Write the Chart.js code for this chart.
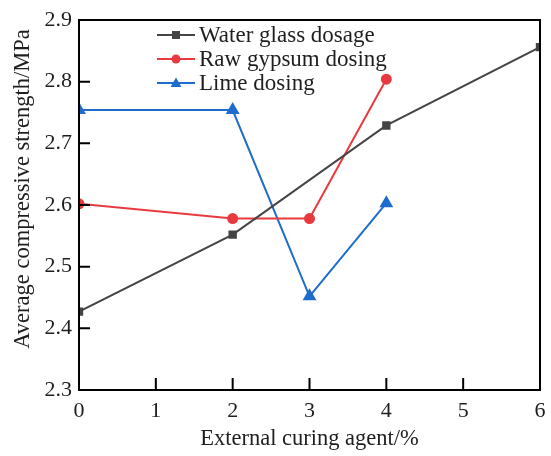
<!DOCTYPE html>
<html>
<head>
<meta charset="utf-8">
<script src="https://cdn.jsdelivr.net/npm/chart.js@4.4.0/dist/chart.umd.min.js"></script>
<style>
html,body{margin:0;padding:0;background:#fff;}
#wrap{width:551px;height:456px;position:relative;}
</style>
</head>
<body>
<div id="wrap"><canvas id="c" width="551" height="456"></canvas></div>
<script>
const xTicks = [0, 1, 2, 3, 4, 5, 6];
const yTicks = [2.3, 2.4, 2.5, 2.6, 2.7, 2.8, 2.9];
const waterGlassX = [0, 2, 4, 6];
const waterGlassY = [2.427, 2.552, 2.729, 2.856];
const gypsumX = [0, 2, 3, 4];
const gypsumY = [2.602, 2.578, 2.578, 2.804];
const limeX = [0, 2, 3, 4];
const limeY = [2.754, 2.754, 2.452, 2.603];
const seriesNames = ['Water glass dosage', 'Raw gypsum dosing', 'Lime dosing'];
const xTitle = 'External curing agent/%';
const yTitle = 'Average compressive strength/MPa';

const FONT = '"Liberation Serif", "DejaVu Serif", serif';
const TEXT = '#1e1e1e';
const toPts = (xs, ys) => xs.map((x, i) => ({x: x, y: ys[i]}));

const frame = {
  id: 'frame',
  afterDraw(chart) {
    const {ctx, chartArea: a, scales} = chart;
    ctx.save();
    ctx.strokeStyle = '#000';
    ctx.lineWidth = 2;
    ctx.strokeRect(a.left, a.top, a.right - a.left, a.bottom - a.top);
    ctx.beginPath();
    xTicks.forEach(v => {
      if (v === xTicks[0] || v === xTicks[xTicks.length - 1]) return;
      const px = scales.x.getPixelForValue(v);
      ctx.moveTo(px, a.bottom); ctx.lineTo(px, a.bottom - 12);
    });
    yTicks.forEach(v => {
      if (v === yTicks[0] || v === yTicks[yTicks.length - 1]) return;
      const py = scales.y.getPixelForValue(v);
      ctx.moveTo(a.left, py); ctx.lineTo(a.left + 11, py);
    });
    ctx.stroke();
    // y title
    ctx.save();
    ctx.translate(23, 189);
    ctx.rotate(-Math.PI / 2);
    ctx.fillStyle = TEXT;
    ctx.font = '22.5px ' + FONT;
    ctx.textAlign = 'center';
    ctx.textBaseline = 'middle';
    ctx.fillText(yTitle, 0, 0);
    ctx.restore();
    // legend
    const lx = 157, lw = 38, ys = [35, 59, 83];
    chart.data.datasets.forEach((ds, i) => {
      const y = ys[i];
      ctx.strokeStyle = ds.borderColor;
      ctx.lineWidth = 2;
      ctx.beginPath(); ctx.moveTo(lx, y); ctx.lineTo(lx + lw, y); ctx.stroke();
      ctx.fillStyle = ds.pointBackgroundColor;
      const cx = lx + lw / 2;
      ctx.beginPath();
      if (ds.pointStyle === 'rect') { ctx.rect(cx - 4, y - 4, 8, 8); }
      else if (ds.pointStyle === 'circle') { ctx.arc(cx, y, 4.5, 0, Math.PI * 2); }
      else { ctx.moveTo(cx, y - 5.5); ctx.lineTo(cx + 5.5, y + 4); ctx.lineTo(cx - 5.5, y + 4); ctx.closePath(); }
      ctx.fill();
      ctx.fillStyle = TEXT;
      ctx.font = '23px ' + FONT;
      ctx.textBaseline = 'middle';
      ctx.textAlign = 'left';
      ctx.fillText(ds.label, lx + lw + 4, y + 1);
    });
    ctx.restore();
  }
};

new Chart(document.getElementById('c'), {
  type: 'line',
  data: {
    datasets: [
      {label: seriesNames[0], data: toPts(waterGlassX, waterGlassY), borderColor: '#444444', backgroundColor: '#444444', pointBackgroundColor: '#444444', pointBorderColor: '#444444', pointStyle: 'rect', pointRadius: 4.5, borderWidth: 2},
      {label: seriesNames[1], data: toPts(gypsumX, gypsumY), borderColor: '#e83a3e', backgroundColor: '#e83a3e', pointBackgroundColor: '#e83a3e', pointBorderColor: '#e83a3e', pointStyle: 'circle', pointRadius: 4.5, borderWidth: 2},
      {label: seriesNames[2], data: toPts(limeX, limeY), borderColor: '#1e6ccc', backgroundColor: '#1e6ccc', pointBackgroundColor: '#1e6ccc', pointBorderColor: '#1e6ccc', pointStyle: 'triangle', pointRadius: 6, borderWidth: 2}
    ]
  },
  options: {
    responsive: false,
    animation: false,
    layout: {padding: {top: 20, right: 11, left: 0, bottom: 0}},
    plugins: {legend: {display: false}, tooltip: {enabled: false}},
    scales: {
      x: {
        type: 'linear', min: 0, max: 6,
        afterBuildTicks: s => { s.ticks = xTicks.map(v => ({value: v})); },
        grid: {display: false, drawTicks: false},
        border: {display: false},
        ticks: {color: TEXT, font: {family: FONT, size: 22}, padding: 8},
        title: {display: true, text: xTitle, color: TEXT, font: {family: FONT, size: 22.5}, padding: {top: 0, bottom: 3}},
        afterFit: s => { s.height = 66; s.paddingLeft = 0; s.paddingRight = 0; }
      },
      y: {
        type: 'linear', min: 2.3, max: 2.9,
        afterBuildTicks: s => { s.ticks = yTicks.map(v => ({value: v})); },
        grid: {display: false, drawTicks: false},
        border: {display: false},
        ticks: {color: TEXT, font: {family: FONT, size: 22}, padding: 7, callback: v => Number(v).toFixed(1)},
        title: {display: false},
        afterFit: s => { s.width = 79; s.paddingTop = 0; s.paddingBottom = 0; }
      }
    }
  },
  plugins: [frame]
});
</script>
</body>
</html>
